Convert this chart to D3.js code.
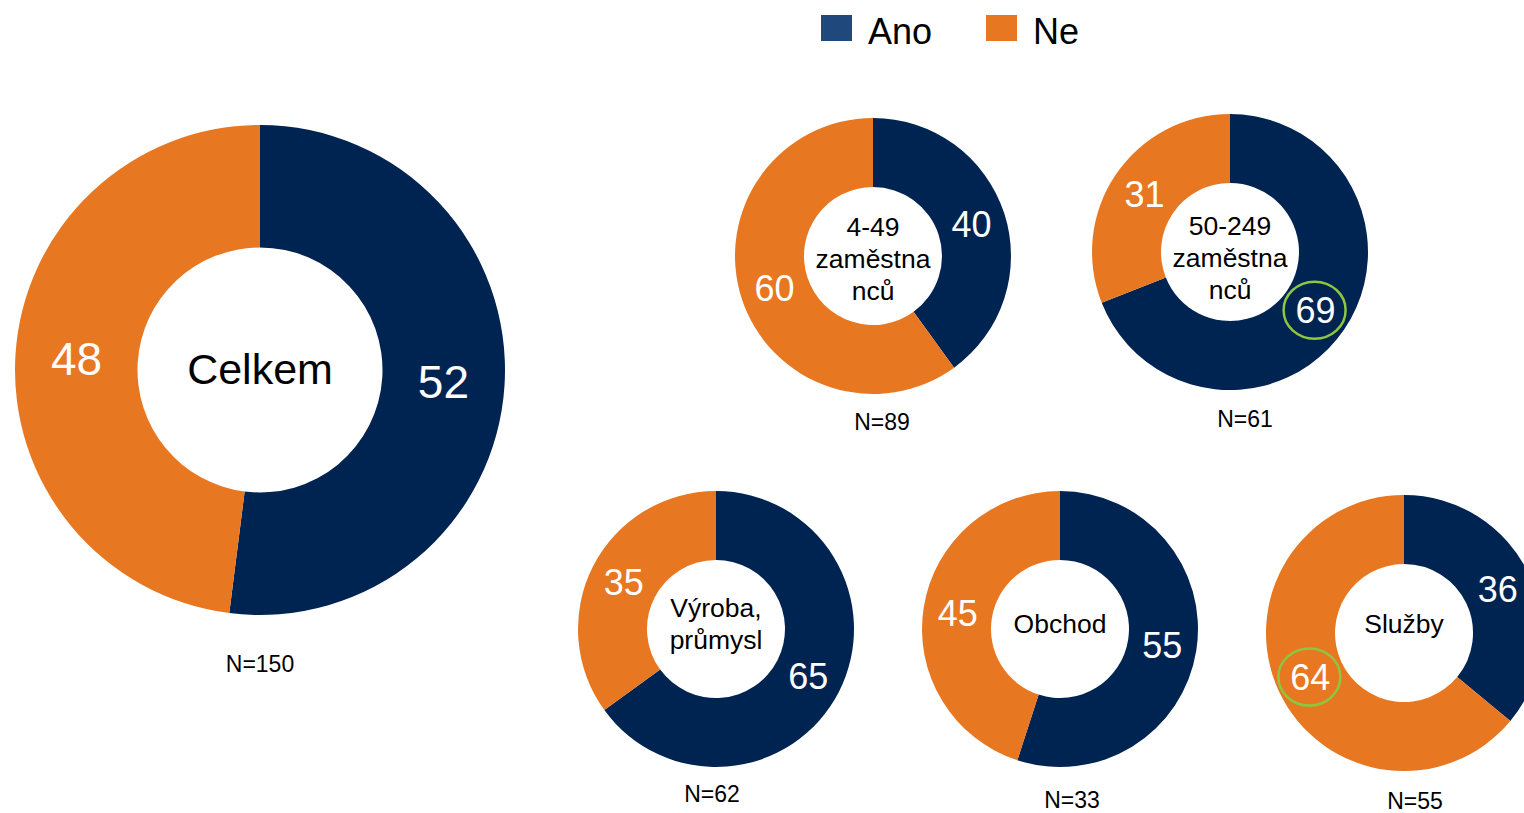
<!DOCTYPE html>
<html><head><meta charset="utf-8">
<script src="https://cdn.jsdelivr.net/npm/d3@7"></script>
<style>body{margin:0;background:#fff;overflow:hidden}svg{display:block;font-family:"Liberation Sans",Arial,sans-serif}</style>
</head><body>
<svg id="c" width="1524" height="813"></svg>
<script>
const seriesNames = ["Ano", "Ne"];
const groups = ["Celkem", "4-49 zaměstnanců", "50-249 zaměstnanců", "Výroba, průmysl", "Obchod", "Služby"];
const centerLabels = [["Celkem"], ["4-49", "zaměstna", "nců"], ["50-249", "zaměstna", "nců"], ["Výroba,", "průmysl"], ["Obchod"], ["Služby"]];
const anoValues = [52, 40, 69, 65, 55, 36];
const neValues = [48, 60, 31, 35, 45, 64];
const nLabels = ["N=150", "N=89", "N=61", "N=62", "N=33", "N=55"];
const highlighted = [null, null, "Ano", null, null, "Ne"];

const colors = {Ano: "#002452", Ne: "#E87722"};
const legendColors = {Ano: "#1F497D", Ne: "#E87722"};
const layout = [
  {cx: 260, cy: 370, ro: 245, ri: 122.5, fs: 46, cfs: 43, lh: 32, ly: -1, ny: 664, nx: 260},
  {cx: 873, cy: 256, ro: 138, ri: 69, fs: 36, cfs: 26.5, lh: 32, ly: 2, ny: 422, nx: 882},
  {cx: 1230, cy: 252, ro: 138, ri: 69, fs: 36, cfs: 26.5, lh: 32, ly: 5, ny: 419, nx: 1245},
  {cx: 716, cy: 629, ro: 138, ri: 69, fs: 36, cfs: 26.5, lh: 32, ly: -6, ny: 794, nx: 712},
  {cx: 1060, cy: 629, ro: 138, ri: 69, fs: 36, cfs: 26.5, lh: 32, ly: -6, ny: 800, nx: 1072},
  {cx: 1404, cy: 633, ro: 138, ri: 69, fs: 36, cfs: 26.5, lh: 32, ly: -10, ny: 801, nx: 1415}
];

const svg = d3.select("#c");
const pie = d3.pie().sort(null).value(d => d.v);

groups.forEach((g, i) => {
  const L = layout[i];
  const data = [{k: "Ano", v: anoValues[i]}, {k: "Ne", v: neValues[i]}];
  const arcs = pie(data);
  const arc = d3.arc().innerRadius(L.ri).outerRadius(L.ro);
  const lab = d3.arc().innerRadius((L.ri + L.ro) / 2).outerRadius((L.ri + L.ro) / 2);
  const G = svg.append("g").attr("transform", `translate(${L.cx},${L.cy})`);
  G.selectAll("path").data(arcs).join("path").attr("d", arc).attr("fill", d => colors[d.data.k]);
  G.selectAll("text.v").data(arcs).join("text").attr("class", "v")
    .attr("transform", d => `translate(${lab.centroid(d)})`)
    .attr("text-anchor", "middle").attr("dy", "0.36em")
    .attr("fill", "#fff").attr("font-size", L.fs).text(d => d.data.v);
  arcs.forEach(d => {
    if (highlighted[i] === d.data.k) {
      const [x, y] = lab.centroid(d);
      G.append("ellipse").attr("cx", x - 1).attr("cy", y).attr("rx", 31).attr("ry", 28.5)
        .attr("fill", "none").attr("stroke", "#8DC63F").attr("stroke-width", 2.5);
    }
  });
  const lines = centerLabels[i];
  const off = (lines.length - 1) / 2;
  lines.forEach((t, j) => {
    G.append("text").attr("x", 0).attr("y", L.ly + (j - off) * L.lh).attr("dy", "0.36em")
      .attr("text-anchor", "middle").attr("fill", "#000").attr("font-size", L.cfs).text(t);
  });
  svg.append("text").attr("x", L.nx).attr("y", L.ny).attr("dy", "0.36em").attr("text-anchor", "middle")
    .attr("font-size", 23).attr("fill", "#000").text(nLabels[i]);
});

// legend
const legX = [821, 986];
seriesNames.forEach((s, i) => {
  svg.append("rect").attr("x", legX[i]).attr("y", 15).attr("width", 31).attr("height", 26).attr("fill", legendColors[s]);
  svg.append("text").attr("x", legX[i] + 47).attr("y", 31).attr("dy", "0.36em").attr("font-size", 36).attr("fill", "#000").text(s);
});
</script>
</body></html>
